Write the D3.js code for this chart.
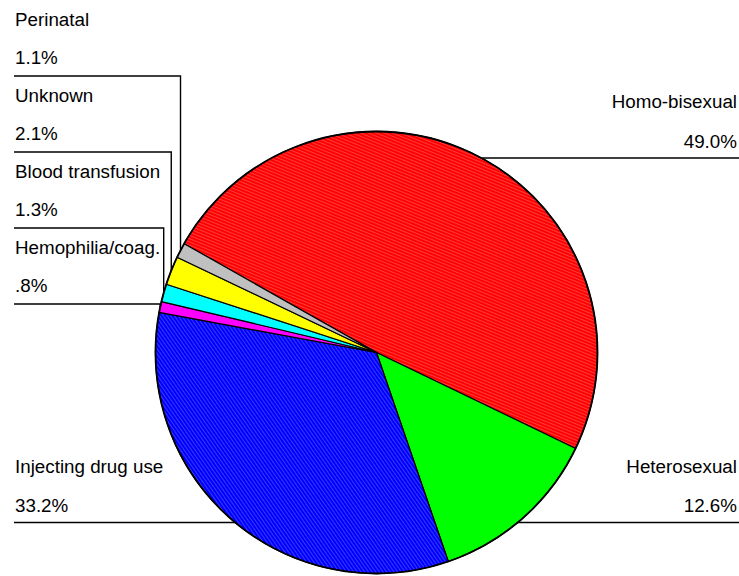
<!DOCTYPE html>
<html>
<head>
<meta charset="utf-8">
<script src="https://cdn.jsdelivr.net/npm/d3@7"></script>
<style>
  html, body { margin: 0; padding: 0; background: #fff; overflow: hidden; }
  #chart { width: 739px; height: 576px; }
  text { font-family: "Liberation Sans", Arial, sans-serif; fill: #000; }
</style>
</head>
<body>
<div id="chart"></div>
<script>
// data, in clockwise order starting at the Homo-bisexual slice
const categories = ["Homo-bisexual", "Heterosexual", "Injecting drug use", "Hemophilia/coag.", "Blood transfusion", "Unknown", "Perinatal"];
const shares = [49.0, 12.6, 33.2, 0.8, 1.3, 2.1, 1.1];
const shareLabels = ["49.0%", "12.6%", "33.2%", ".8%", "1.3%", "2.1%", "1.1%"];
const sliceColors = ["#ff0000", "#00ff00", "#0000ff", "#ff00ff", "#00ffff", "#ffff00", "#c0c0c0"];

class ExposurePie {

    constructor(element) {
        this.element = element;
        this.width = 739;
        this.height = 576;
        this.fontSize = 18.8;

        this.cx = 376.5;
        this.cy = 352.5;
        this.radius = 221;

        this.element.innerHTML = `<svg width="${this.width}" height="${this.height}"></svg>`;
        this.svg = d3.select(this.element).select("svg");

        this.draw();
    }

    // where each label block sits: side and y of its underline
    labelLayout(name) {
        const stack = ["Perinatal", "Unknown", "Blood transfusion", "Hemophilia/coag."];
        const k = stack.indexOf(name);
        if (k >= 0) return { side: "stack", lineY: 76 + k * 76 };
        if (name === "Homo-bisexual") return { side: "right", lineY: 158 };
        if (name === "Heterosexual") return { side: "right", lineY: 522.5 };
        return { side: "left", lineY: 522.5 };
    }

    draw() {
        const data = categories.map((c, i) => ({
            name: c, value: shares[i], label: shareLabels[i], color: sliceColors[i]
        }));

        const start = -60.5 * Math.PI / 180;
        const pie = d3.pie()
            .sort(null)
            .value(d => d.value)
            .startAngle(start)
            .endAngle(start + 2 * Math.PI);

        const arcs = pie(data);

        const arc = d3.arc()
            .innerRadius(0)
            .outerRadius(this.radius);

        // hatch textures, like the original raster fill
        const defs = this.svg.append("defs");
        const hatch = (id, base, line, angle, gap) => {
            const p = defs.append("pattern")
                .attr("id", id)
                .attr("patternUnits", "userSpaceOnUse")
                .attr("width", gap)
                .attr("height", gap)
                .attr("patternTransform", `rotate(${angle})`);
            p.append("rect").attr("width", gap).attr("height", gap).attr("fill", base);
            p.append("rect").attr("width", gap).attr("height", 1).attr("fill", line);
        };
        hatch("hatch-red", "#ff0000", "#ff3c3c", 22, 3);
        hatch("hatch-blue", "#0000ff", "#3a3aff", 55, 3);

        const fillFor = d => {
            if (d.data.name === "Homo-bisexual") return "url(#hatch-red)";
            if (d.data.name === "Injecting drug use") return "url(#hatch-blue)";
            return d.data.color;
        };

        // leader lines first, the pie covers their inner ends
        const leaders = this.svg.append("g")
            .attr("fill", "none")
            .attr("stroke", "#000")
            .attr("stroke-width", 1.4);

        const labels = this.svg.append("g")
            .style("font-size", `${this.fontSize}px`);

        arcs.forEach(d => {
            const lay = this.labelLayout(d.data.name);
            const mid = (d.startAngle + d.endAngle) / 2;
            const px = this.cx + this.radius * Math.sin(mid);
            const py = this.cy - this.radius * Math.cos(mid);

            let textX, anchor, pctOffset;
            if (lay.side === "stack") {
                textX = 15; anchor = "start"; pctOffset = 12;
                leaders.append("path")
                    .attr("d", `M14,${lay.lineY}H${px}V${py + 2}`);
            } else if (lay.side === "left") {
                textX = 15; anchor = "start"; pctOffset = 10.5;
                leaders.append("path")
                    .attr("d", `M14,${lay.lineY}H${this.cx}`);
            } else {
                textX = 737; anchor = "end"; pctOffset = 10.5;
                leaders.append("path")
                    .attr("d", `M${this.width},${lay.lineY}H${this.cx}`);
            }

            labels.append("text")
                .attr("x", textX)
                .attr("y", lay.lineY - 50)
                .attr("text-anchor", anchor)
                .text(d.data.name);

            labels.append("text")
                .attr("x", textX)
                .attr("y", lay.lineY - pctOffset)
                .attr("text-anchor", anchor)
                .text(d.data.label);
        });

        // slices
        const g = this.svg.append("g")
            .attr("transform", `translate(${this.cx},${this.cy})`);

        g.selectAll("path.slice")
            .data(arcs)
            .join("path")
            .attr("class", "slice")
            .attr("d", arc)
            .attr("fill", fillFor)
            .attr("stroke", "#000")
            .attr("stroke-width", 1.2)
            .attr("stroke-linejoin", "round");

        // outer rim
        g.append("circle")
            .attr("r", this.radius)
            .attr("fill", "none")
            .attr("stroke", "#000")
            .attr("stroke-width", 1.8);
    }
}

new ExposurePie(document.getElementById("chart"));
</script>
</body>
</html>
